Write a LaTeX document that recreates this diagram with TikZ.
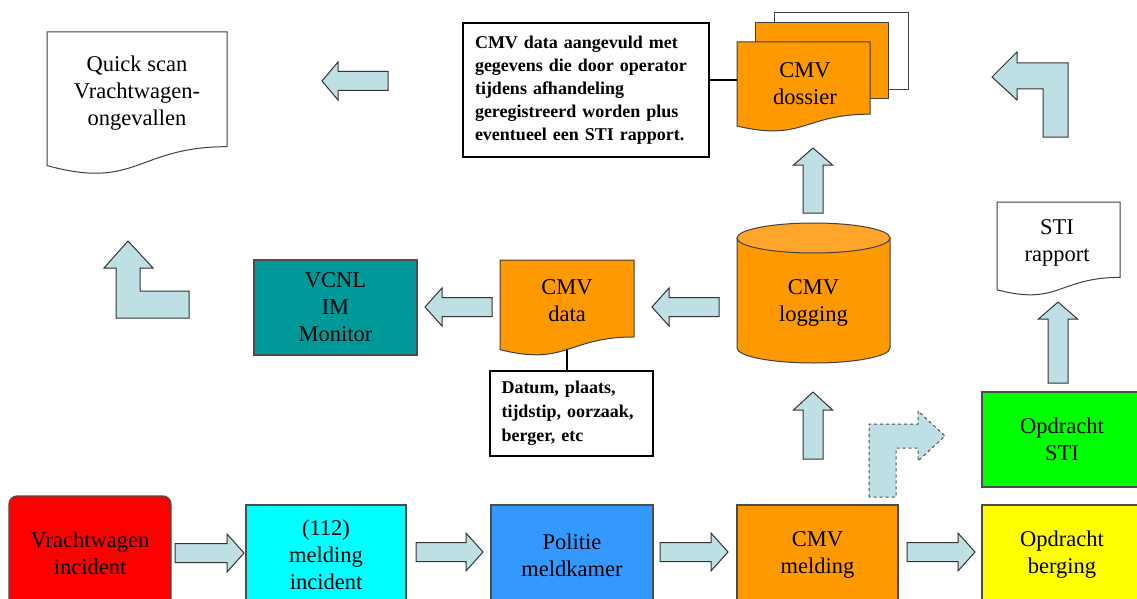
\documentclass[tikz,border=0pt]{standalone}
\usepackage{fontspec}
\setmainfont{LiberationSerif}[Extension=.ttf, UprightFont=*-Regular, BoldFont=*-Bold, ItalicFont=*-Italic, BoldItalicFont=*-BoldItalic]
\definecolor{arrowfill}{HTML}{BEE0E4}
\definecolor{cmvorange}{HTML}{FF9900}
\definecolor{cmvorangelight}{HTML}{FFA52A}
\definecolor{vcnlteal}{HTML}{009999}
\definecolor{polblue}{HTML}{3399FF}
\definecolor{stigreen}{HTML}{00FF00}
\definecolor{bergyellow}{HTML}{FFFF00}
\definecolor{incred}{HTML}{FF0000}
\definecolor{meldcyan}{HTML}{00FFFF}
\newcommand\harr[5][]{\draw[barrow,#1] (#2,#5-9.5) -- (#3,#5-9.5) -- (#3,#5-19) -- (#4,#5) -- (#3,#5+19) -- (#3,#5+9.5) -- (#2,#5+9.5) -- cycle;}
\newcommand\varr[4]{\draw[barrow] (#4-10,#1) -- (#4-10,#2) -- (#4-19.5,#2) -- (#4,#3) -- (#4+19.5,#2) -- (#4+10,#2) -- (#4+10,#1) -- cycle;}
% document shape: x1, top, x2, height, style
\newcommand\mydoc[5]{\draw[#5] (#1,#2) -- (#3,#2) -- (#3,#2+0.802*#4)
  .. controls ({(#1+#3)/2},#2+0.802*#4) and ({(#1+#3)/2},#2+1.108*#4) .. (#1,#2+0.934*#4) -- cycle;}
\tikzset{
  x=1pt, y=-1pt,
  mainfont/.style={font=\fontsize{22.5}{27}\selectfont},
  box/.style={draw=black!70, line width=1.2pt, align=center, mainfont, inner sep=0pt},
  barrow/.style={fill=arrowfill, draw=black!80, line width=1pt, line join=miter},
  note/.style={draw=black, line width=1.6pt, fill=white, align=left, inner sep=0pt,
    font=\bfseries\fontsize{18}{23}\selectfont},
  txt/.style={align=center, mainfont, inner sep=0pt},
  docline/.style={draw=black!75, line width=1pt},
}
\begin{document}
\begin{tikzpicture}
\useasboundingbox (0,0) rectangle (1137,599);
\clip (0,0) rectangle (1137,599);
\fill[white] (0,0) rectangle (1137,599);

% ---------- top row ----------
\mydoc{47}{32}{227}{143}{docline, fill=white}
\node[txt] (qs) at (137,93) {Quick scan\\Vrachtwagen-\\ongevallen};

\harr{388}{338}{322}{81}

\node[note, text width=222pt, minimum width=246pt, minimum height=134pt] (note1) at (586,90)
  {CMV data aangevuld met\\gegevens die door operator\\tijdens afhandeling\\geregistreerd worden plus\\eventueel een STI rapport.};

\draw[docline, fill=white] (774,13) rectangle (908,90);
\draw[docline, fill=cmvorange] (755,23) rectangle (888,99);
\mydoc{737}{42}{870}{90}{docline, fill=cmvorange}
\node[txt] (doss) at (805,84) {CMV\\dossier};
\coordinate (dl) at (737,80);
\draw[line width=1.2pt] (note1.east |- dl) -- (dl);

% top-right L arrow (pointing left)
\draw[barrow] (992,77) -- (1017,52) -- (1017,63) -- (1068,63) -- (1068,137) -- (1043,137)
  -- (1043,89) -- (1017,89) -- (1017,100) -- cycle;

% ---------- middle row ----------
% left L arrow (pointing up)
\draw[barrow] (128,241) -- (153,268) -- (140,268) -- (140,291) -- (189,291) -- (189,318)
  -- (116,318) -- (116,268) -- (104,268) -- cycle;

\node[box, fill=vcnlteal, minimum width=163pt, minimum height=95pt] (vcnl) at (335.5,307.5)
  {VCNL\\IM\\Monitor};

\harr{492}{442}{425}{307}

\mydoc{500}{260}{634}{96}{docline, fill=cmvorange}
\node[txt] (data) at (567,301) {CMV\\data};
\coordinate (db) at (567,349);

\node[note, font=\bfseries\fontsize{18}{24}\selectfont, text width=140pt, minimum width=163pt,
  minimum height=85pt] (note2) at (571.5,413.5) {Datum, plaats,\\tijdstip, oorzaak,\\berger, etc};
\draw[line width=1.6pt] (db) -- (db |- note2.north);

\harr{719}{669}{652}{307}

% cylinder
\draw[docline, fill=cmvorange] (737,238) -- (737,348)
  arc[start angle=180, end angle=360, x radius=76.5pt, y radius=15pt] -- (890,238) -- cycle;
\draw[docline, fill=cmvorangelight] (813.5,238) ellipse [x radius=76.5pt, y radius=15pt];
\node[txt] (log) at (813.5,303) {CMV\\logging};

\varr{213}{165}{148}{813}

% STI rapport
\mydoc{997}{202}{1120}{94}{docline, fill=white}
\node[txt] (stir) at (1057,243) {STI\\rapport};

\varr{383}{319}{302}{1058}
\varr{459}{410}{392}{813}

% dashed L arrow (pointing right)
\draw[barrow, dashed, draw=black!70] (869,497) -- (869,424) -- (918,424) -- (918,411) -- (945,436)
  -- (918,461) -- (918,448) -- (896,448) -- (896,497) -- cycle;

\node[box, fill=stigreen, minimum width=160pt, minimum height=95pt] (osti) at (1062,439.5)
  {Opdracht\\STI};

% ---------- bottom row ----------
\node[box, fill=incred, rounded corners=8pt, minimum width=162pt, minimum height=114pt] (inc) at (90,553)
  {Vrachtwagen\\incident};
\node[box, fill=meldcyan, minimum width=160pt, minimum height=100pt] (m112) at (326,555)
  {(112)\\melding\\incident};
\node[box, fill=polblue, minimum width=162pt, minimum height=100pt] (pol) at (572,555)
  {Politie\\meldkamer};
\node[box, fill=cmvorange, minimum width=161pt, minimum height=100pt] (cmvm) at (817.5,555)
  {CMV\\melding};
\node[box, fill=bergyellow, minimum width=160pt, minimum height=100pt] (berg) at (1062,555)
  {Opdracht\\berging};

\harr{175}{227}{244}{553}
\harr{416}{466}{483}{552}
\harr{660}{711}{728}{552}
\harr{907}{958}{975}{552}
\end{tikzpicture}
\end{document}
